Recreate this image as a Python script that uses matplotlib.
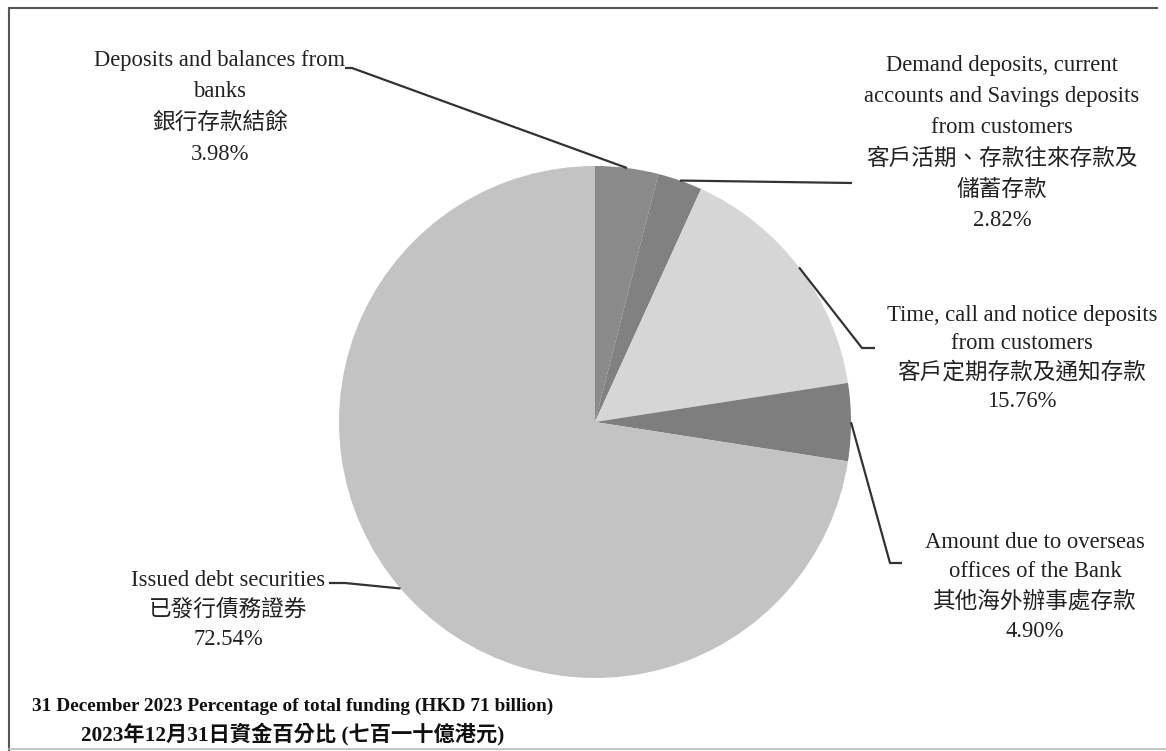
import numpy as np
import matplotlib.pyplot as plt
from matplotlib.lines import Line2D

labels_en = ['Deposits and balances from\nbanks',
             'Demand deposits, current\naccounts and Savings deposits\nfrom customers',
             'Time, call and notice deposits\nfrom customers',
             'Amount due to overseas\noffices of the Bank',
             'Issued debt securities']
labels_zh = ['銀行存款結餘',
             '客戶活期、存款往來存款及\n儲蓄存款',
             '客戶定期存款及通知存款',
             '其他海外辦事處存款',
             '已發行債務證券']
shares = [3.98, 2.82, 15.76, 4.90, 72.54]
colors = ['#8a8a8a', '#818181', '#d6d6d6', '#7e7e7e', '#c3c3c3']
title_en = '31 December 2023 Percentage of total funding (HKD 71 billion)'
title_zh = '2023年12月31日資金百分比 (七百一十億港元)'

fonts = ['Liberation Serif', 'Noto Sans CJK TC']
W, H = 1166, 751

fig = plt.figure(figsize=(W / 100, H / 100), dpi=100)
ax = fig.add_axes([0, 0, 1, 1])

cx, cy, r = 595, H - 422, 256
wedges, _ = ax.pie(shares, colors=colors, startangle=90, counterclock=False,
                   center=(cx, cy), radius=r, frame=True,
                   wedgeprops=dict(linewidth=0))
ax.set_xlim(0, W)
ax.set_ylim(0, H)
ax.set_aspect('equal')
ax.axis('off')

# label centre x and first-line centre y (pixels from top), leader line end points
label_pos = [(220, 58), (1002, 63), (1022, 313), (1035, 540), (228, 578)]
spacing = [1.62, 1.62, 1.45, 1.52, 1.52]
leader_end = [[(352, 68), (345, 68)],
              [(852, 183)],
              [(862, 348), (875, 348)],
              [(890, 563), (902, 563)],
              [(345, 583), (329, 583)]]

for i, w in enumerate(wedges):
    ang = np.deg2rad((w.theta1 + w.theta2) / 2)
    ax0 = cx + r * np.cos(ang)
    ay0 = cy + r * np.sin(ang)
    xs = [ax0] + [p[0] for p in leader_end[i]]
    ys = [ay0] + [H - p[1] for p in leader_end[i]]
    ax.plot(xs, ys, color='#333333', lw=1.6, solid_capstyle='butt')
    txt = labels_en[i] + '\n' + labels_zh[i] + '\n' + f'{shares[i]:.2f}%'
    ax.text(label_pos[i][0], H - label_pos[i][1] + 8, txt, ha='center', va='top',
            fontsize=16.3, family=fonts, color='#222222', linespacing=spacing[i])

ax.text(293, H - 706, title_en, ha='center', va='center', fontsize=13.9,
        family=fonts, fontweight='bold', color='#111111')
ax.text(293, H - 734, title_zh, ha='center', va='center', fontsize=15.3,
        family=fonts, fontweight='bold', color='#111111')

# scanned frame: top and left lines, faint bottom
fig.add_artist(Line2D([9 / W, 1 - 9 / W], [1 - 8 / H, 1 - 8 / H], color='#555555', lw=1.5))
fig.add_artist(Line2D([9 / W, 9 / W], [1 - 8 / H, 0], color='#555555', lw=1.5))
fig.add_artist(Line2D([9 / W, 1], [2 / H, 2 / H], color='#bbbbbb', lw=1.2))

fig.savefig('out.png', dpi=100)
